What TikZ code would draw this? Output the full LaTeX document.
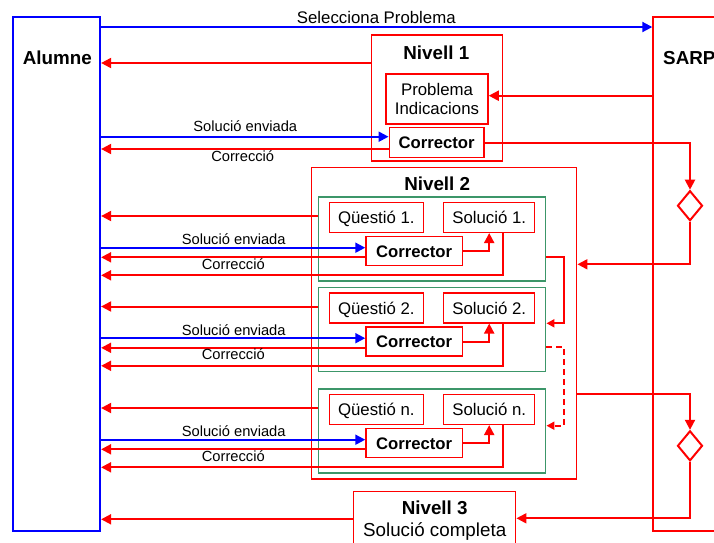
\documentclass[tikz,border=0pt]{standalone}
\usepackage{fontspec}
\setmainfont{Liberation Sans}
\usetikzlibrary{arrows.meta,shapes.geometric}
\definecolor{cred}{RGB}{255,0,0}
\definecolor{cblue}{RGB}{0,0,255}
\definecolor{cgreen}{RGB}{60,150,105}
\begin{document}
\begin{tikzpicture}[x=1pt,y=-1pt,
  rbox/.style={draw=cred,line width=1.5pt,inner sep=0pt},
  gbox/.style={draw=cgreen,line width=1.5pt,inner sep=0pt,minimum width=227.4pt,minimum height=84pt},
  arr/.style={draw=cred,line width=2pt,-{Triangle[length=10pt,width=10pt]}},
  barr/.style={draw=cblue,line width=2pt,-{Triangle[length=10pt,width=10pt]}},
  sarr/.style={draw=cred,line width=2pt,-{Triangle[length=8pt,width=8pt]}},
  bigb/.style={font=\fontsize{18.8}{22.4}\selectfont\bfseries},
  bigt/.style={font=\fontsize{18.8}{22.4}\selectfont},
  midt/.style={font=\fontsize{16.8}{19}\selectfont},
  midb/.style={font=\fontsize{16.7}{19}\selectfont\bfseries},
  smallt/.style={font=\fontsize{14.7}{17}\selectfont},
  lbl/.style={inner sep=0pt,anchor=base},
  captxt/.style={text height=12pt,text depth=0pt},
  dia/.style={draw=cred,line width=2pt,diamond,inner sep=0pt,minimum width=25pt,minimum height=30pt}
]
\useasboundingbox (0,0) rectangle (714,542);
\clip (0,0) rectangle (714,542);

% main boxes
\node[draw=cblue,line width=2.2pt,inner sep=0pt,minimum width=86.7pt,minimum height=514pt] (alumne) at (56.65,273.7) {};
\node[lbl,bigb] (alumneT) at (57.3,64) {Alumne};
\node[rbox,line width=2pt,minimum width=86.7pt,minimum height=514pt] (sarp) at (696.65,273.7) {};
\node[lbl,bigb,anchor=base west] (sarpT) at (663,64) {SARP};

% Nivell 1
\node[rbox,minimum width=130.6pt,minimum height=126pt] (n1) at (437,98) {};
\node[lbl,bigb] (n1T) at (436.3,59) {Nivell 1};
\node[rbox,midt,align=center,minimum width=102pt,minimum height=50pt] (prob) at (437,99) {Problema\\Indicacions};
\node[rbox,midb,captxt,minimum width=94.7pt,minimum height=29.6pt] (corr0) at (436.65,142.5) {Corrector};

% Nivell 2
\node[rbox,minimum width=265pt,minimum height=311.3pt] (n2) at (444.2,323.35) {};
\node[lbl,bigb] (n2T) at (437.2,190) {Nivell 2};

% Nivell 3
\node[rbox,minimum width=162.4pt,minimum height=80pt] (n3) at (434.5,531.7) {};
\node[lbl,bigb] (n3T) at (434.7,514.3) {Nivell 3};
\node[lbl,bigt] (n3S) at (434.7,536.7) {Solució completa};

% diamonds
\node[dia] (d1) at (690,205.7) {};
\node[dia] (d2) at (690,445.8) {};

% Nivell 1 connectors
\draw[barr] (alumne.east |- 0,27) -- (sarp.west |- 0,27);
\node[lbl,midt] (selT) at (376.3,23) {Selecciona Problema};
\draw[arr] (n1.west |- 0,63) -- (alumne.east |- 0,63);
\draw[arr] (sarp.west |- 0,95.7) -- (prob.east |- 0,95.7);
\draw[barr] (alumne.east |- 0,136.7) -- (corr0.west |- 0,136.7);
\node[lbl,smallt] (se0) at (245.3,131.7) {Solució enviada};
\draw[arr] (corr0.west |- 0,149) -- (alumne.east |- 0,149);
\node[lbl,smallt] (co0) at (242.7,161) {Correcció};
\draw[arr] (corr0.east) -| (d1.north);
\draw[arr] (d1.south) |- (n2.east |- 0,264.3);
\draw[arr] (n2.east |- 0,394.3) -| (d2.north);
\draw[arr] (d2.south) |- (n3.east |- 0,518.3);
\draw[arr] (n3.west |- 0,519.3) -- (alumne.east |- 0,519.3);

% Nivell 2 blocks
\foreach \i/\o/\lab in {1/0/1, 2/90.5/2, 3/192/n}{
  \node[gbox] (g\i) at (432,238.9+\o) {};
  \node[rbox,midt,captxt,minimum width=94pt,minimum height=29.6pt] (q\i) at (376.3,217.5+\o) {Qüestió \lab.};
  \node[rbox,midt,captxt,minimum width=91pt,minimum height=29.6pt] (s\i) at (489.2,217.5+\o) {Solució \lab.};
  \node[rbox,midb,captxt,minimum width=96.3pt,minimum height=29pt] (c\i) at (414.15,251.2+\o) {Corrector};
  \draw[arr] (g\i.west |- 0,216+\o) -- (alumne.east |- 0,216+\o);
  \draw[barr] (alumne.east |- 0,247.7+\o) -- (c\i.west |- 0,247.7+\o);
  \draw[arr] (c\i.west |- 0,257.3+\o) -- (alumne.east |- 0,257.3+\o);
  \draw[arr] (s\i.south -| 503.3,0) |- (alumne.east |- 0,275.3+\o);
  \draw[arr] (c\i.east) -| (s\i.south);
  \node[lbl,smallt] (se\i) at (233.7,244.5+\o) {Solució enviada};
  \node[lbl,smallt] (co\i) at (233.3,269+\o) {Correcció};
}
\draw[sarr] (g1.east |- 0,257.3) -- (564,257.3) |- (g2.east |- 0,323.3);
\draw[sarr,dash pattern=on 6pt off 4pt] (g2.east |- 0,346.7) -- (564,346.7) |- (g3.east |- 0,425.7);
\end{tikzpicture}
\end{document}
